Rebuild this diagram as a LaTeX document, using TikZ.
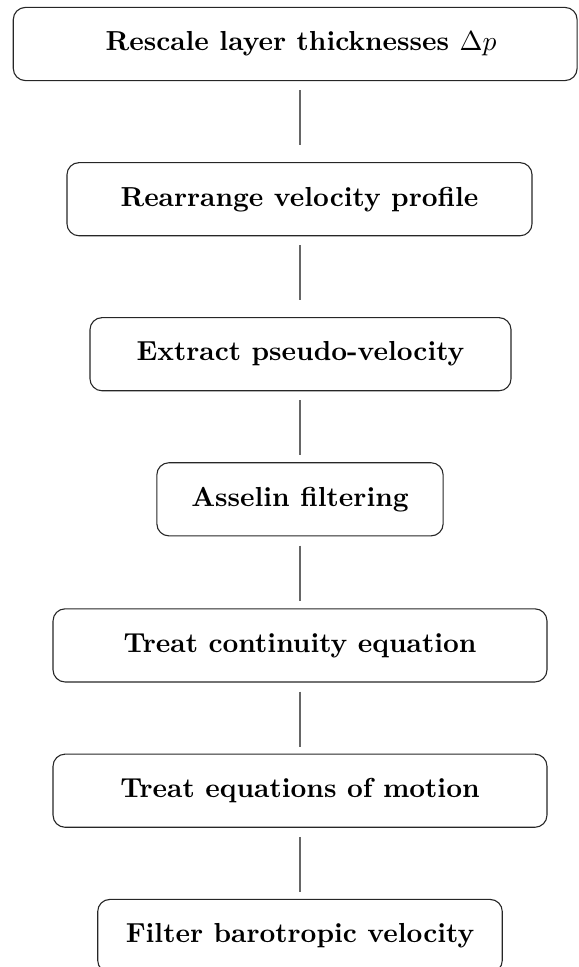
\documentclass[tikz,border=0pt]{standalone}
\begin{document}
\begin{tikzpicture}[
  x=0.3636pt, y=-0.3636pt,
  stepbox/.style={draw=black!85, line width=0.4pt, rounded corners=4.4pt,
    minimum height=26.6pt, inner sep=0pt,
    font=\fontsize{10}{12}\selectfont\bfseries},
  link/.style={draw=black!60, line width=0.5pt},
]
\useasboundingbox (0,0) rectangle (578,967);
\clip (0,0) rectangle (578,967);

% process steps, top to bottom
\node[stepbox, minimum width=205pt] (b1) at (295.2,44) {};
\node[font=\fontsize{10}{12}\selectfont\bfseries, inner sep=0pt] (t1) at (301,44)
  {Rescale layer thicknesses $\Delta p$};
\node[stepbox, minimum width=169.1pt] (b2) at (299.5,199.2) {Rearrange velocity profile};
\node[stepbox, minimum width=153.1pt] (b3) at (300.5,354.2) {Extract pseudo-velocity};
\node[stepbox, minimum width=104.1pt] (b4) at (300,499.3) {Asselin filtering};
\node[stepbox, minimum width=179.6pt] (b5) at (300,645.4) {Treat continuity equation};
\node[stepbox, minimum width=179.6pt] (b6) at (300,790.7) {Treat equations of motion};
\node[stepbox, minimum width=147.1pt] (b7) at (300,936) {Filter barotropic velocity};

% connecting strokes below each step
\foreach \a in {b1,b2,b3,b4,b5,b6}
  \draw[link] ([yshift=-3.3pt]\a.south -| 300,0) -- ++(0,-20pt);
\end{tikzpicture}
\end{document}
